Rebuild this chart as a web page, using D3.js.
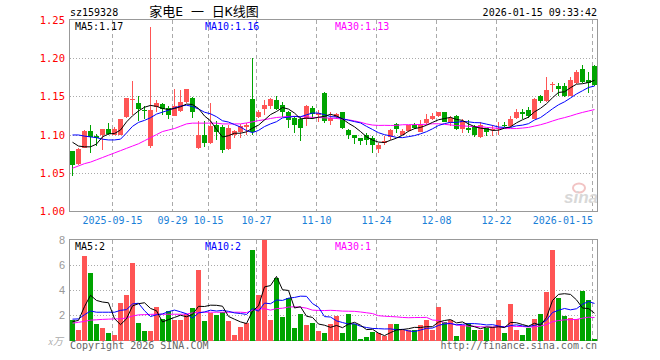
<!DOCTYPE html>
<html><head><meta charset="utf-8">
<script src="https://cdn.jsdelivr.net/npm/d3@7"></script>
<style>body{margin:0;background:#fff}svg{display:block}</style>
</head><body>
<svg id="c" width="660" height="360"></svg>
<script>
// ---------- data ----------
const dates = ["2025-09-04","2025-09-05","2025-09-08","2025-09-09","2025-09-10","2025-09-11","2025-09-12","2025-09-15","2025-09-16","2025-09-17",
"2025-09-18","2025-09-19","2025-09-22","2025-09-23","2025-09-24","2025-09-25","2025-09-26","2025-09-29","2025-09-30","2025-10-09",
"2025-10-10","2025-10-13","2025-10-14","2025-10-15","2025-10-16","2025-10-17","2025-10-20","2025-10-21","2025-10-22","2025-10-23",
"2025-10-24","2025-10-27","2025-10-28","2025-10-29","2025-10-30","2025-10-31","2025-11-03","2025-11-04","2025-11-05","2025-11-06",
"2025-11-07","2025-11-10","2025-11-11","2025-11-12","2025-11-13","2025-11-14","2025-11-17","2025-11-18","2025-11-19","2025-11-20",
"2025-11-21","2025-11-24","2025-11-25","2025-11-26","2025-11-27","2025-11-28","2025-12-01","2025-12-02","2025-12-03","2025-12-04",
"2025-12-05","2025-12-08","2025-12-09","2025-12-10","2025-12-11","2025-12-12","2025-12-15","2025-12-16","2025-12-17","2025-12-18",
"2025-12-19","2025-12-22","2025-12-23","2025-12-24","2025-12-25","2025-12-26","2025-12-29","2025-12-30","2025-12-31","2026-01-05",
"2026-01-06","2026-01-07","2026-01-08","2026-01-09","2026-01-12","2026-01-13","2026-01-14","2026-01-15"];

const openP = [1.078,1.061,1.083,1.105,1.098,1.099,1.107,1.100,1.100,1.123,
1.146,1.141,1.132,1.085,1.136,1.140,1.135,1.125,1.131,1.143,
1.148,1.082,1.100,1.089,1.113,1.110,1.081,1.100,1.103,1.110,
1.147,1.123,1.133,1.138,1.145,1.139,1.130,1.122,1.121,1.121,
1.135,1.126,1.155,1.118,1.123,1.129,1.106,1.099,1.095,1.100,
1.095,1.081,1.089,1.097,1.114,1.100,1.105,1.112,1.104,1.115,
1.121,1.125,1.129,1.115,1.125,1.107,1.108,1.110,1.097,1.108,
1.106,1.107,1.113,1.111,1.122,1.130,1.132,1.121,1.150,1.144,
1.165,1.164,1.164,1.151,1.168,1.186,1.171,1.190];
const highP = [1.079,1.082,1.106,1.113,1.101,1.107,1.115,1.110,1.121,1.148,
1.170,1.151,1.137,1.241,1.145,1.141,1.137,1.160,1.159,1.160,
1.149,1.118,1.118,1.142,1.118,1.113,1.113,1.106,1.114,1.115,
1.200,1.132,1.145,1.148,1.150,1.143,1.131,1.124,1.123,1.139,
1.138,1.132,1.156,1.130,1.128,1.130,1.107,1.100,1.096,1.102,
1.098,1.089,1.098,1.107,1.115,1.107,1.113,1.115,1.119,1.127,
1.128,1.130,1.130,1.125,1.126,1.120,1.119,1.112,1.116,1.109,
1.113,1.117,1.116,1.124,1.133,1.133,1.136,1.148,1.152,1.176,
1.169,1.167,1.168,1.176,1.185,1.191,1.182,1.191];
const lowP = [1.046,1.060,1.082,1.076,1.085,1.080,1.100,1.099,1.099,1.122,
1.126,1.118,1.120,1.083,1.130,1.126,1.120,1.124,1.129,1.142,
1.122,1.081,1.084,1.088,1.093,1.076,1.080,1.095,1.095,1.100,
1.100,1.122,1.126,1.134,1.132,1.123,1.109,1.102,1.091,1.111,
1.121,1.117,1.115,1.113,1.120,1.107,1.094,1.088,1.086,1.087,
1.076,1.076,1.087,1.093,1.102,1.099,1.104,1.107,1.103,1.113,
1.119,1.123,1.116,1.111,1.106,1.102,1.102,1.097,1.096,1.098,
1.098,1.100,1.110,1.110,1.120,1.121,1.122,1.120,1.142,1.143,
1.156,1.150,1.149,1.150,1.166,1.167,1.155,1.163];
const closeP = [1.060,1.081,1.105,1.097,1.095,1.107,1.101,1.107,1.120,1.148,
1.147,1.133,1.131,1.132,1.142,1.133,1.126,1.138,1.143,1.160,
1.130,1.100,1.089,1.111,1.104,1.080,1.109,1.105,1.111,1.113,
1.104,1.129,1.139,1.146,1.133,1.130,1.119,1.113,1.108,1.138,
1.127,1.128,1.118,1.122,1.127,1.108,1.099,1.095,1.091,1.093,
1.086,1.086,1.092,1.106,1.107,1.105,1.112,1.109,1.114,1.121,
1.124,1.129,1.117,1.122,1.107,1.118,1.106,1.099,1.112,1.103,
1.107,1.108,1.112,1.121,1.129,1.127,1.125,1.147,1.144,1.159,
1.166,1.160,1.151,1.171,1.182,1.169,1.168,1.165];
// volume in 万
const volume = [1.64,0.85,6.73,5.40,1.32,1.01,0.56,0.40,3.02,3.63,
6.17,1.43,0.77,0.77,2.70,1.72,2.36,1.64,1.64,2.09,
2.62,5.62,1.56,2.17,2.04,2.25,1.56,0.45,1.11,1.38,
7.21,3.63,8.00,1.64,5.01,1.91,3.36,1.03,2.12,1.25,
1.43,0.72,0.56,1.28,1.99,0.56,2.12,1.30,0.13,0.24,
0.69,0.56,0.32,1.32,1.32,0.87,0.87,0.85,1.27,1.64,
0.87,2.70,1.48,1.64,0.32,1.25,1.40,0.87,0.87,0.98,
1.11,1.64,0.56,2.91,0.85,0.40,0.98,1.72,2.12,3.89,
7.21,3.42,1.99,1.83,1.72,3.95,3.23,0.13];

// moving-average values at the start of the window (history before the first candle)
const ma5Head  = [1.090,1.085,1.084,1.084];
const ma10Head = [1.0995,1.0995,1.098,1.097,1.096,1.094,1.093,1.093,1.094];
const ma30Head = [1.056,1.059,1.062,1.064,1.067,1.070,1.073,1.076,1.079,1.082,1.085,1.088,1.092,1.096,1.100,
                  1.104,1.106,1.108,1.111,1.114,1.115,1.115,1.115,1.115,1.115,1.114,1.114,1.114,1.114];
const vma5Head  = [1.50,1.60,2.70,3.60];
const vma10Head = [1.70,1.72,2.05,2.35,2.25,2.25,2.25,2.25,2.40];
const vma30Head = [1.38,1.45,1.52,1.62,1.65,1.68,1.70,1.72,1.72,1.80,1.95,2.04,2.06,2.08,2.09,
                   2.09,2.09,2.09,2.09,2.10,2.20,2.24,2.25,2.25,2.25,2.25,2.25,2.25,2.25];

const priceTicks = [1.00,1.05,1.10,1.15,1.20,1.25];
const volTicks = [2,4,6,8];
const dateTicks = ["2025-09-15","2025-09-29","2025-10-15","2025-10-27","2025-11-10","2025-11-24","2025-12-08","2025-12-22","2026-01-15"];
const dateTickLabels = ["2025-09-15","09-29","10-15","10-27","11-10","11-24","12-08","12-22","2026-01-15"];

const code = "sz159328";
const title = "家电E 一 日K线图";
const stamp = "2026-01-15 09:33:42";

// ---------- helpers ----------
function movingAvg(arr, n, head){
  return arr.map((v,i)=> i < head.length ? head[i] : d3.mean(arr.slice(i-n+1, i+1)));
}
const ma5 = movingAvg(closeP,5,ma5Head), ma10 = movingAvg(closeP,10,ma10Head), ma30 = movingAvg(closeP,30,ma30Head);
const vma5 = movingAvg(volume,5,vma5Head), vma10 = movingAvg(volume,10,vma10Head), vma30 = movingAvg(volume,30,vma30Head);

const RED = "#ff5555", GREEN = "#00a400";
const MONO = "'DejaVu Sans Mono', monospace";

const svg = d3.select("#c");
const L = 70, R = 597;
const x = d3.scaleBand().domain(dates).range([L, R]).paddingInner(1/6).paddingOuter(0);
const y = d3.scaleLinear().domain([1.00,1.25]).range([211,20]);
const yv = d3.scaleLinear().domain([0,8]).range([340.5,240]);
const cx = d => x(d) + x.bandwidth()/2;

const data = dates.map((d,i)=>({d, o:openP[i], h:highP[i], l:lowP[i], c:closeP[i], v:volume[i]}));
const isUp = r => r.c >= r.o;

// ---------- header ----------
svg.append("text").attr("x",L).attr("y",16).attr("font-family",MONO).attr("font-size",10).text(code);
svg.append("text").attr("x",204).attr("y",16).attr("text-anchor","middle")
  .attr("font-family","'DejaVu Sans Mono','Noto Sans CJK SC'").attr("font-size",13).text(title);
svg.append("text").attr("x",R).attr("y",16).attr("text-anchor","end").attr("font-family",MONO).attr("font-size",10).text(stamp);

// ---------- grids ----------
const grid = svg.append("g").attr("stroke","#aaa").attr("shape-rendering","crispEdges");
grid.selectAll(".hp").data(priceTicks.filter(t=>t>1.0001 && t<1.2499)).join("line")
  .attr("x1",L).attr("x2",R).attr("y1",d=>Math.round(y(d))+0.5).attr("y2",d=>Math.round(y(d))+0.5)
  .attr("stroke-dasharray","1,2");
grid.selectAll(".hv").data(volTicks.filter(t=>t<8)).join("line")
  .attr("x1",L).attr("x2",R).attr("y1",d=>Math.round(yv(d))+0.5).attr("y2",d=>Math.round(yv(d))+0.5)
  .attr("stroke-dasharray","1,2");
[[20,211],[240,340]].forEach(([a,b])=>{
  grid.append("g").selectAll("line").data(dateTicks).join("line")
    .attr("x1",d=>x(d)+0.5).attr("x2",d=>x(d)+0.5).attr("y1",a).attr("y2",b)
    .attr("stroke-dasharray","4,3");
});

// ---------- watermark ----------
const wm = svg.append("g");
wm.append("ellipse").attr("cx",579).attr("cy",188).attr("rx",6).attr("ry",4.5).attr("fill","none").attr("stroke","#f2c4c4").attr("stroke-width",2);
wm.append("text").attr("x",564).attr("y",203).attr("font-family","'Liberation Sans',Arial").attr("font-style","italic")
  .attr("font-weight","bold").attr("font-size",17).attr("fill","#d8d8d8").text("sina");

// ---------- frames ----------
svg.append("rect").attr("x",L-0.5).attr("y",19.5).attr("width",R-L+1).attr("height",192)
  .attr("fill","none").attr("stroke","#999").attr("shape-rendering","crispEdges");
svg.append("rect").attr("x",L-0.5).attr("y",239.5).attr("width",R-L+1).attr("height",101)
  .attr("fill","none").attr("stroke","#999").attr("shape-rendering","crispEdges");

// ---------- price axis ----------
svg.append("g").selectAll("text").data(priceTicks).join("text")
  .attr("x",65).attr("y",d=>y(d)+4).attr("text-anchor","end").attr("font-family",MONO).attr("font-size",10.5)
  .attr("fill","#ff0000").text(d=>d.toFixed(2));

// date labels
svg.append("g").selectAll("text").data(dateTicks).join("text")
  .attr("x",(d,i)=> i===dateTicks.length-1 ? x(d)+1 : x(d)+0.5)
  .attr("text-anchor",(d,i)=> i===dateTicks.length-1 ? "end" : "middle")
  .attr("y",224).attr("font-family",MONO).attr("font-size",10).attr("fill","#1a7fd8")
  .text((d,i)=>dateTickLabels[i]);

// ---------- candles ----------
const cg = svg.append("g").attr("shape-rendering","crispEdges");
cg.selectAll(".wick").data(data).join("rect")
  .attr("x",d=>x(d.d)+2).attr("width",1)
  .attr("y",d=>y(d.h)).attr("height",d=>Math.max(1,y(d.l)-y(d.h)))
  .attr("fill",d=>isUp(d)?RED:GREEN);
cg.selectAll(".body").data(data).join("rect")
  .attr("x",d=>x(d.d)).attr("width",x.bandwidth())
  .attr("y",d=>y(Math.max(d.o,d.c))).attr("height",d=>Math.max(1,Math.abs(y(d.o)-y(d.c))))
  .attr("fill",d=>isUp(d)?RED:GREEN);

// ---------- MA lines ----------
function drawLine(vals, sc, color){
  svg.append("path").datum(vals)
    .attr("d", d3.line().x((v,i)=>cx(dates[i])).y(v=>sc(v)))
    .attr("fill","none").attr("stroke",color).attr("stroke-width",1);
}
drawLine(ma30, y, "#ff00ff");
drawLine(ma10, y, "#0000ff");
drawLine(ma5, y, "#000000");

// legends
const lg = [["MA5:",ma5,"#000",75],["MA10:",ma10,"#0000ff",205],["MA30:",ma30,"#ff00ff",335]];
lg.forEach(([t,a,c,px])=>{
  svg.append("text").attr("x",px).attr("y",30).attr("font-family",MONO).attr("font-size",10).attr("fill",c)
    .text(t + a[a.length-1].toFixed(2));
});

// ---------- volume ----------
const vg = svg.append("g").attr("shape-rendering","crispEdges");
vg.selectAll("rect").data(data).join("rect")
  .attr("x",d=>x(d.d)).attr("width",x.bandwidth())
  .attr("y",d=>yv(Math.min(d.v,8))).attr("height",d=>yv(0)-yv(Math.min(d.v,8)))
  .attr("fill",d=>isUp(d)?RED:GREEN);
drawLine(vma30, yv, "#ff00ff");
drawLine(vma10, yv, "#0000ff");
drawLine(vma5, yv, "#000000");

const vlg = [["MA5:",vma5,"#000",75],["MA10:",vma10,"#0000ff",205],["MA30:",vma30,"#ff00ff",335]];
vlg.forEach(([t,a,c,px])=>{
  svg.append("text").attr("x",px).attr("y",250).attr("font-family",MONO).attr("font-size",10).attr("fill",c)
    .text(t + Math.floor(a[a.length-1]));
});

svg.append("g").selectAll("text").data(volTicks).join("text")
  .attr("x",65).attr("y",d=>yv(d)+4).attr("text-anchor","end").attr("font-family","'Liberation Sans',Arial")
  .attr("font-size",11).attr("fill","#999").text(d=>d);
svg.append("text").attr("x",63).attr("y",345).attr("text-anchor","end").attr("font-family","'Liberation Serif','Noto Sans CJK SC'")
  .attr("font-size",10).attr("font-style","italic").attr("fill","#aaa").text("x万");

// footer
svg.append("text").attr("x",L).attr("y",349).attr("font-family",MONO).attr("font-size",10).attr("fill","#666").text("Copyright 2026 SINA.COM");
svg.append("text").attr("x",R).attr("y",349).attr("text-anchor","end").attr("font-family",MONO).attr("font-size",10).attr("fill","#666").text("http://finance.sina.com.cn");
</script>
</body></html>
